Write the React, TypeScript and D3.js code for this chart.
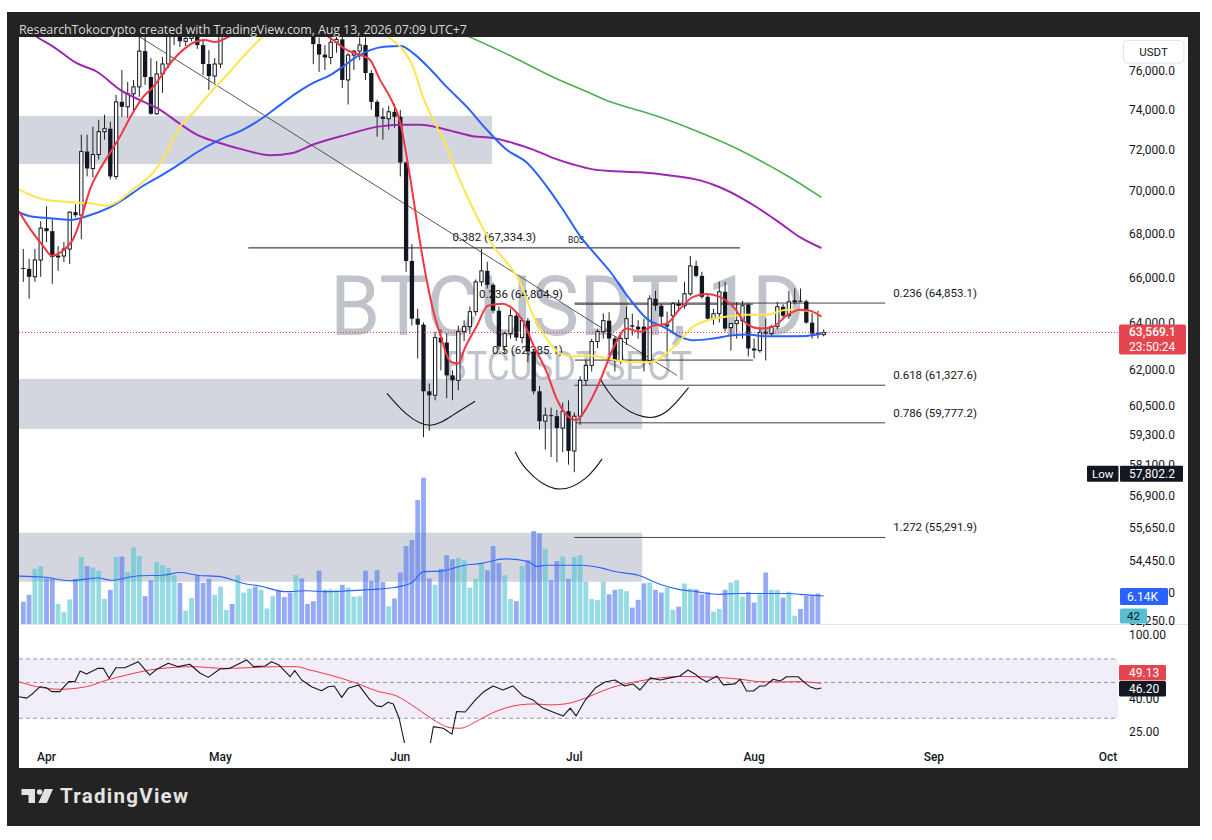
import * as d3 from 'd3';

type Pt = [number, number];

// one candle per day, first candle 28 Mar 2026
const START = Date.UTC(2026, 2, 28);
const END = Date.UTC(2026, 9, 1);
const DAY = 86400000;

const opens = [
  66420, 66380, 66022, 66783, 68245, 68107, 66918, 66963, 67282, 68990,
  68850, 71896, 71074, 71751, 72876, 73024, 70690, 74371, 74120, 74776,
  75131, 76983, 75640, 73769, 75794, 76311, 77900, 78400, 77500, 77650,
  78500, 77300, 76311, 75690, 76311, 78300, 79200, 78700, 80100, 80600,
  81400, 80700, 81200, 81500, 81900, 81100, 80200, 79400, 79900, 79000,
  78200, 77350, 76800, 76650, 77450, 77600, 75487, 76775, 76983, 77305,
  75845, 74371, 73620, 73520, 73869, 73620, 71363, 66738, 64169, 63908,
  61075, 60910, 63348, 63135, 61740, 61531, 63606, 63822, 64474, 65796,
  66290, 65663, 64517, 62964, 63520, 64299, 63348, 64082, 62751, 61075,
  59847, 60090, 60049, 59564, 60253, 58645, 60049, 61531, 62159, 63178,
  63606, 64082, 63306, 62328, 63306, 63880, 63822, 63822, 62370, 65044,
  64735, 63850, 64299, 64823, 64735, 65264, 66513, 66066, 65131, 64169,
  64386, 65352, 63779, 63952, 64082, 64779, 62879, 62794, 63600, 63520,
  63822, 64691, 64299, 64911, 64955, 64930, 63995, 63563, 63477,
];
const highs = [
  67282, 66828, 67282, 68570, 69270, 68662, 67420, 67602, 69036, 69363,
  72729, 72729, 73123, 73471, 73720, 73372, 74725, 76000, 75385, 75487,
  77900, 77900, 76620, 76470, 76670, 78300, 78700, 78600, 78000, 78900,
  78800, 77600, 77035, 76620, 78700, 79700, 79900, 80500, 81100, 81900,
  81800, 81600, 81900, 82400, 82200, 81400, 80500, 80300, 80200, 79300,
  78400, 77700, 77300, 77700, 78200, 77800, 76880, 77035, 77700, 77700,
  76000, 74470, 74070, 74170, 74270, 73970, 71410, 67510, 64600, 64000,
  61400, 63600, 63700, 63520, 61950, 63865, 64100, 64700, 65900, 67282,
  66700, 65750, 64700, 63600, 64600, 64450, 64200, 64200, 62850, 61300,
  60400, 60400, 60300, 60600, 60700, 60200, 61700, 62400, 63300, 63700,
  64400, 64450, 63400, 63500, 64690, 64386, 64100, 64169, 65200, 65397,
  64823, 64474, 64900, 65000, 65800, 66963, 66750, 66250, 65200, 64600,
  65800, 65800, 63995, 64900, 64950, 64850, 63306, 63800, 64169, 63900,
  64900, 64800, 65400, 65500, 65500, 65000, 64517, 64517, 63700,
];
const lows = [
  65796, 65044, 65796, 66022, 67602, 65708, 66290, 66693, 66603, 68756,
  67739, 70690, 70642, 71508, 72483, 70547, 70547, 73620, 73570, 73819,
  74624, 75233, 73720, 73720, 74826, 76100, 77300, 77200, 77250, 77500,
  77100, 75740, 74978, 75333, 76100, 78000, 78300, 78400, 79700, 80300,
  80300, 80200, 80900, 81100, 80700, 79800, 79000, 79000, 78600, 77900,
  76300, 75900, 76000, 76300, 76900, 75080, 74240, 76000, 76520, 75490,
  73970, 72630, 72480, 72975, 73070, 70690, 66245, 63870, 62455, 59200,
  59450, 60700, 61950, 60790, 60704, 61116, 63200, 63500, 64300, 65600,
  65500, 64400, 62800, 62700, 63300, 63200, 63100, 62300, 60950, 59500,
  58700, 58400, 58200, 58600, 58100, 57802, 59700, 61300, 61900, 62900,
  63300, 62600, 61907, 62200, 63030, 63434, 63300, 61907, 62200, 64517,
  63865, 62582, 63500, 64500, 64600, 65175, 66000, 65044, 64082, 63900,
  64000, 63606, 62794, 63300, 63300, 62539, 62455, 62700, 62370, 63400,
  63700, 64150, 64150, 64800, 64900, 63950, 63306, 63306, 63400,
];
const closes = [
  66380, 66022, 66783, 68245, 68107, 66918, 66963, 67282, 68990, 68850,
  71896, 71074, 71751, 72876, 73024, 70690, 74371, 74120, 74776, 75131,
  76983, 75640, 73769, 75794, 76311, 77900, 78400, 77500, 77650, 78500,
  77300, 76311, 75690, 76311, 78300, 79200, 78700, 80100, 80600, 81400,
  80700, 81200, 81500, 81900, 81100, 80200, 79400, 79900, 79000, 78200,
  77350, 76800, 76650, 77450, 77600, 75487, 76775, 76983, 77305, 75845,
  74371, 73620, 73520, 73869, 73620, 71363, 66738, 64169, 63908, 61075,
  60910, 63348, 63135, 61740, 61531, 63606, 63822, 64474, 65796, 66290,
  65663, 64517, 62964, 63520, 64299, 63348, 64082, 62751, 61075, 59847,
  60090, 60049, 59564, 60253, 58645, 60049, 61531, 62159, 63178, 63606,
  64082, 63306, 62328, 63306, 64169, 63822, 63700, 62370, 65044, 64735,
  64256, 63900, 64823, 64735, 65264, 66513, 66066, 65131, 64169, 64386,
  65352, 63736, 63952, 64082, 64735, 62879, 62794, 63563, 63520, 63822,
  64691, 64299, 64911, 64955, 64930, 63995, 63520, 63477, 63569.1,
];
// volume in thousands
const volumes = [
  4.9, 6.4, 12.1, 12.7, 10.0, 10.0, 4.4, 2.6, 5.4, 9.9,
  14.7, 12.7, 12.4, 11.7, 5.5, 7.5, 14.7, 14.8, 11.4, 16.8,
  14.9, 6.1, 9.6, 13.6, 12.9, 12.3, 10.7, 9.0, 2.9, 5.7,
  10.7, 9.0, 9.9, 6.4, 8.2, 3.1, 4.4, 10.7, 6.9, 7.8,
  8.2, 7.5, 3.4, 6.1, 7.5, 5.9, 6.9, 10.7, 10.0, 4.4,
  5.0, 11.7, 7.5, 7.6, 7.5, 8.6, 8.0, 6.0, 6.1, 11.7,
  9.5, 11.8, 9.2, 3.9, 5.6, 11.3, 17.1, 18.4, 27.2, 32.1,
  10.0, 8.6, 12.1, 15.1, 14.2, 14.5, 14.0, 8.0, 9.9, 13.2,
  11.8, 17.1, 13.4, 10.7, 5.5, 5.0, 12.7, 14.0, 20.4, 19.9,
  16.4, 9.6, 13.8, 14.8, 9.9, 14.7, 15.1, 9.3, 5.5, 5.3,
  9.3, 6.5, 7.5, 7.7, 7.2, 3.6, 5.3, 8.9, 9.1, 7.5,
  6.9, 8.0, 3.1, 3.8, 8.9, 7.8, 7.6, 6.5, 7.0, 2.7,
  3.3, 7.5, 9.1, 9.6, 6.0, 7.0, 4.7, 6.5, 11.3, 7.5,
  7.5, 5.8, 7.1, 1.8, 3.3, 6.2, 6.4, 6.7, 0.042,
];

// moving averages as [day, value]
const maFast: Pt[] = [
  [-0.8, 69050], [1.2, 68200], [3.4, 67430], [4.9, 66980], [6.8, 67200], [8.6, 67740],
  [10.1, 68820], [11.5, 70070], [13.2, 71030], [15, 71850], [16.7, 72650], [18.4, 73570],
  [20.6, 74600], [22.4, 75130], [24.1, 75830], [25.8, 76520], [27.5, 77035], [29.6, 77460],
  [31.3, 77570], [33, 77460], [35.6, 77780], [38.2, 78350], [42.5, 78900], [47.7, 78600],
  [53.4, 77570], [55.8, 77035], [58.1, 76780], [59.8, 76520], [61.5, 75490], [63.2, 74620],
  [65, 73320], [66.1, 71650], [67.2, 69740], [68.4, 67600], [69.6, 65800], [70.8, 64390],
  [72.1, 63300], [73.6, 62330], [75, 62240], [76.1, 62880], [78.2, 63860], [80.1, 64740],
  [82.7, 64820], [84.4, 64600], [86.2, 64040], [87.9, 63050], [90.2, 61910], [91.9, 60790],
  [93.7, 60090], [95.4, 59890], [97.1, 60380], [99.4, 61490], [101.7, 62880], [104, 63740],
  [106.3, 63600], [108.6, 63860], [110.9, 63950], [113.2, 64600], [115.5, 65130],
  [117.8, 65260], [120.1, 65130], [122.4, 64690], [124.7, 63950], [127, 63740],
  [129.3, 63820], [131.6, 64300], [133.9, 64560], [135.6, 64520], [137.6, 64260],
];
const ma20: Pt[] = [
  [-0.8, 70070], [3.4, 69600], [8.1, 69460], [11.5, 69410], [14.4, 69290], [16.1, 69460],
  [18.9, 70070], [22.4, 70880], [24.7, 71850], [27, 73140], [29.3, 73820], [32.2, 74830],
  [35.1, 75740], [37.9, 76690], [41.3, 77740], [47.7, 78800], [54.6, 79100], [59.8, 78600],
  [63.2, 77670], [65.5, 77035], [67.2, 76160], [68.9, 74620], [71.3, 73120], [73, 72140],
  [74.7, 70880], [77, 69460], [78.7, 68520], [81, 67420], [83.3, 66690], [85.6, 65800],
  [87.9, 64300], [90.2, 63310], [92.5, 62670], [94.8, 62540], [97.7, 62580], [102.3, 62370],
  [106.3, 62290], [108.6, 62330], [110.9, 62670], [113.2, 63220], [115.5, 63820],
  [117.8, 64080], [121.3, 64260], [124.7, 64340], [128.2, 64340], [131.6, 64560],
  [135.1, 64520], [137.6, 64300],
];
const ma50: Pt[] = [
  [-0.8, 68990], [1.2, 68800], [4.6, 68710], [8.1, 68630], [10.9, 68800], [14.9, 69220],
  [17.8, 69690], [20.6, 70230], [23.6, 70710], [26.4, 71190], [29.9, 71850], [33.9, 72480],
  [37.9, 72975], [41.3, 73570], [44.3, 74220], [47.1, 74810], [49.9, 75320], [52.9, 75740],
  [55.1, 76170], [57.5, 76690], [59.8, 77035], [62.2, 77210], [65.1, 77250], [67.2, 76880],
  [70.3, 76000], [73, 75130], [76.4, 74140], [79.9, 72975], [83.3, 71994], [86.8, 71360],
  [90.2, 70230], [93, 69130], [96, 67880], [98.9, 66960], [101.2, 66250], [104, 65220],
  [107.5, 64170], [110.9, 63740], [113.2, 63390], [115.5, 63230], [118.9, 63310],
  [122.4, 63450], [124.7, 63480], [128.2, 63400], [131.6, 63400], [135.1, 63420],
  [137.6, 63520],
];
const ma100: Pt[] = [
  [-0.7, 78430], [2.3, 77740], [5.2, 77210], [9.2, 76350], [12.7, 75910], [16.7, 74980],
  [20.6, 74390], [23.6, 73970], [26.4, 73390], [29.9, 72730], [33.9, 72320], [37.9, 71990],
  [42.5, 71720], [46.5, 71830], [49.9, 72230], [55.8, 72730], [61.5, 73140], [65, 73220],
  [68.4, 73220], [73, 72975], [77.5, 72650], [81, 72560], [84.4, 72320], [87.9, 71994],
  [91.3, 71590], [94.8, 71270], [98.2, 71030], [101.2, 70950], [106.3, 70890],
  [111.5, 70740], [116.7, 70500], [120.1, 70170], [123.6, 69690], [127, 69130],
  [130.5, 68480], [133.9, 67830], [137.6, 67330],
];
const ma200: Pt[] = [
  [71.8, 78430], [77, 77720], [84.4, 76680], [91.3, 75640], [97.2, 74880], [101.2, 74370],
  [106.3, 73920], [111.5, 73420], [116.7, 72830], [121.9, 72190], [127, 71460],
  [132.2, 70640], [137.6, 69690],
];
const volumeMa: Pt[] = [
  [-0.8, 10.5], [3.4, 10.3], [8, 9.5], [13, 10.1], [15, 9.6], [20, 10.6], [24, 10.7],
  [27, 11.3], [30, 10.7], [34, 10.4], [38, 8.9], [41, 8.3], [45, 7.1], [49, 7.3], [52, 7.1],
  [55, 7.2], [59, 7.5], [64, 8.0], [67, 9.1], [69, 11.5], [72, 11.6], [76, 12.9], [79, 13.3],
  [83, 14.3], [87, 13.7], [88.6, 12.6], [90, 12.9], [96, 12.9], [100, 12.2], [102, 11.5],
  [106, 10.7], [110, 8.6], [113, 7.6], [116, 7.1], [120, 6.5], [123, 6.7], [128, 6.7],
  [132, 6.7], [134, 6.5], [138, 6.14],
];
const rsi: Pt[] = [
  [-0.8, 40.8], [0.6, 40.0], [1.7, 42.9], [2.9, 47.1], [4, 46.4], [4.9, 43.9], [6.3, 43.9],
  [7.8, 50.6], [8.9, 50.6], [9.8, 58.9], [10.9, 56.5], [12.9, 61.2], [13.8, 61.2],
  [14.8, 53.1], [16, 61.8], [17.5, 61.8], [19.8, 67.3], [21.8, 55.6], [23, 60.4],
  [25, 65.8], [26.7, 62.7], [28.7, 64.9], [30.5, 57.1], [31.9, 53.8], [33.9, 60.6],
  [35.6, 61.2], [38.5, 69.0], [39.7, 62.7], [41.7, 63.3], [42.8, 67.3], [44.1, 64.2],
  [46, 54.3], [46.8, 59.2], [48, 51.8], [49.7, 47.1], [51.4, 44.5], [52.6, 47.1],
  [53.6, 47.6], [54.9, 40.4], [56, 46.0], [57.8, 48.3], [59.8, 38.9], [60.9, 35.8],
  [61.8, 35.4], [62.9, 37.7], [63.8, 36.8], [64.8, 30.0], [65.8, 20.5], [66.8, 18.5],
  [67.9, 17.5], [68.9, 19.0], [70.1, 20.2], [70.7, 26.6], [72.4, 26.0], [73.9, 23.9],
  [74.7, 33.0], [76.2, 32.8], [77.9, 38.9], [79.3, 43.6], [81, 47.6], [82.7, 44.9],
  [84.4, 47.6], [86.2, 41.2], [87.9, 38.9], [89.6, 34.7], [91.3, 32.8], [93.1, 31.0],
  [94.3, 34.7], [95.3, 31.0], [96.9, 38.9], [98.6, 46.2], [100.3, 50.4], [102, 51.8],
  [103.7, 47.6], [105.1, 49.0], [106.3, 44.9], [108.1, 53.4], [109.8, 51.8], [111.5, 53.4],
  [113.2, 54.9], [114.6, 59.8], [115.8, 56.5], [116.7, 53.1], [117.8, 50.6], [119.6, 54.9],
  [120.7, 48.3], [122.7, 49.0], [123.6, 52.4], [124.7, 44.3], [125.9, 44.3], [127, 47.6],
  [127.9, 47.6], [129.3, 52.4], [130.5, 51.1], [131.6, 54.3], [133.6, 54.3], [134.5, 50.6],
  [135.6, 47.1], [136.8, 45.6], [137.6, 46.2],
];
const rsiMa: Pt[] = [
  [-0.8, 50.6], [2.3, 47.1], [6.3, 45.4], [10.9, 47.1], [14.4, 51.8], [17.8, 55.6],
  [21.8, 59.8], [25.3, 61.8], [29.3, 62.7], [34.5, 61.2], [39.1, 61.8], [43.7, 62.7],
  [47.1, 62.7], [49.4, 59.8], [52.9, 55.6], [57.5, 49.4], [60.9, 44.3], [64.4, 41.2],
  [67.8, 34.6], [71.3, 28.5], [73.6, 26.2], [75.3, 26.0], [77.9, 28.4], [80.5, 31.9],
  [83.1, 34.7], [85.6, 36.3], [88.2, 36.8], [90.8, 36.3], [93.4, 36.8], [96, 38.9],
  [98.6, 42.4], [101.2, 46.2], [103.8, 49.0], [106.3, 51.1], [109.8, 53.4], [113.2, 54.5],
  [116.7, 54.3], [120.1, 53.6], [123.6, 52.4], [127, 50.6], [130.5, 50.4], [133.9, 50.6],
  [137.6, 49.4],
];

const priceTicks = [
  76000, 74000, 72000, 70000, 68000, 66000, 64000, 62000, 60500, 59300, 58100, 56900,
  55650, 54450, 53250, 52250,
];
const rsiTicks = [100, 40, 25];
const rsiBands = [70, 50, 30];

// drawings: [from day, to day, upper price, lower price]
const zones = [
  [-10, 80.8, 73660, 71290],
  [-10, 106.7, 61590, 59530],
  [-10, 106.7, 55470, 53650],
];
const fibRight: [string, number][] = [
  ['0.236', 64853.1], ['0.618', 61327.6], ['0.786', 59777.2], ['1.272', 55291.9],
];
const fibRightSpan = [95, 148.6];
const fibLeft: [string, number][] = [['0.236', 64804.9], ['0.5', 62385.1]];
const fibLeftSpan = [95.1, 125.8];
const bosLevel: [string, number] = ['0.382', 67334.3];
const bosSpan = [38.8, 123.6];
const trendline: Pt[] = [[13.2, 79075], [112.7, 61740]];
const cups: Pt[][] = [
  [[62.7, 60990], [66.1, 60130], [70.1, 59680], [74, 60080], [77.9, 60660]],
  [[84.8, 58610], [86.8, 57900], [91.7, 57160], [96.8, 57540], [99.8, 58330]],
  [[99.4, 61615], [102.3, 60650], [106.9, 60030], [110.9, 60240], [114.7, 61230]],
];

const lastPrice = 63569.1;
const lowPrice = 57802.2;
const lastRsi = 46.2;
const lastRsiMa = 49.13;

const FONT = 'Roboto, "DejaVu Sans", sans-serif';
const INK = '#131722';

export default function App() {
  const L = 19;
  const R = 1118;
  const x = d3.scaleUtc().domain([new Date(START), new Date(END)]).range([23.3, 1107.9]);
  const xd = (d: number) => x(new Date(START + d * DAY));
  const y = d3.scaleLog().domain([76000, 54450]).range([70, 560]);
  const yv = d3.scaleLinear().domain([0, 32.1]).range([624, 477.7]);
  const yr = d3.scaleLog().domain([100, 25]).range([634, 731]);
  const fmt = d3.format(',.1f');

  const priceLine = d3.line<Pt>().x((d) => xd(d[0])).y((d) => y(d[1])).curve(d3.curveMonotoneX);
  const volLine = d3.line<Pt>().x((d) => xd(d[0])).y((d) => yv(d[1])).curve(d3.curveMonotoneX);
  const rsiPath = d3.line<Pt>().x((d) => xd(d[0])).y((d) => yr(d[1]));
  const rsiMaPath = d3.line<Pt>().x((d) => xd(d[0])).y((d) => yr(d[1])).curve(d3.curveMonotoneX);
  const cupPath = d3.line<Pt>().x((d) => xd(d[0])).y((d) => y(d[1])).curve(d3.curveNatural);

  const months = x.ticks(d3.utcMonth.every(1)!);
  const bodyW = 4.3;

  const mas: [Pt[], string, number][] = [
    [ma200, '#4caf50', 1.6],
    [ma100, '#9c27b0', 2],
    [ma50, '#2962ff', 2],
    [ma20, '#fde64b', 2],
    [maFast, '#f23645', 2],
  ];

  const yLast = y(lastPrice);
  const yLow = y(lowPrice);

  return (
    <div>
      <style>{'body{margin:0;background:#fff}'}</style>
      <svg width={1212} height={840} style={{ display: 'block' }} fontFamily={FONT}>
        <defs>
          <clipPath id="mainClip">
            <rect x={L} y={37} width={R - L} height={587} />
          </clipPath>
          <clipPath id="rsiClip">
            <rect x={L} y={625} width={R - L} height={118} />
          </clipPath>
        </defs>
        <rect width={1212} height={840} fill="#fff" />
        <rect x={7} y={12} width={1193} height={814} fill="#232323" />
        <rect x={L} y={37} width={1169} height={731} fill="#fff" />
        <text x={19} y={33.5} fontSize={12.5} fill="#d6d6d6" textLength={448} fontFamily='"Open Sans", sans-serif'>
          ResearchTokocrypto created with TradingView.com, Aug 13, 2026 07:09 UTC+7
        </text>

        {/* main pane */}
        <g clipPath="url(#mainClip)">
          {zones.map((z, i) => (
            <rect
              key={i}
              x={xd(z[0])}
              y={y(z[2])}
              width={xd(z[1]) - xd(z[0])}
              height={y(z[3]) - y(z[2])}
              fill="#d1d4dc"
              opacity={0.95}
            />
          ))}
          <text x={330} y={335} fontSize={84} fill="#b2b5be" opacity={0.8} textLength={475} lengthAdjust="spacingAndGlyphs">
            BTCUSDT, 1D
          </text>
          <text x={445} y={380} fontSize={40} fill="#b2b5be" opacity={0.8} textLength={247} lengthAdjust="spacingAndGlyphs">
            BTCUSDT SPOT
          </text>

          {volumes.map((v, i) => {
            const up = closes[i] >= opens[i];
            return (
              <rect
                key={i}
                x={xd(i) - 2.4}
                y={yv(v)}
                width={4.8}
                height={yv(0) - yv(v)}
                fill={up ? '#4fc3d0' : '#5b7cf0'}
                opacity={up ? 0.6 : 0.65}
              />
            );
          })}
          <path d={volLine(volumeMa) ?? ''} fill="none" stroke="#2962ff" strokeWidth={1.1} />

          {/* drawings */}
          <line
            x1={xd(trendline[0][0])}
            y1={y(trendline[0][1])}
            x2={xd(trendline[1][0])}
            y2={y(trendline[1][1])}
            stroke="#444"
            strokeWidth={0.9}
          />
          <line x1={xd(bosSpan[0])} x2={xd(bosSpan[1])} y1={y(bosLevel[1])} y2={y(bosLevel[1])} stroke={INK} strokeWidth={1} />
          <text
            x={(xd(bosSpan[0]) + xd(bosSpan[1])) / 2}
            y={y(bosLevel[1]) - 7}
            fontSize={11.5}
            fill={INK}
            textAnchor="middle"
          >
            {`${bosLevel[0]} (${fmt(bosLevel[1])})`}
          </text>
          <text x={xd(95.3)} y={y(bosLevel[1]) - 5} fontSize={8.5} fill={INK} textAnchor="middle">
            BOS
          </text>
          {fibLeft.map(([lvl, p]) => (
            <g key={'l' + lvl}>
              <line x1={xd(fibLeftSpan[0])} x2={xd(fibLeftSpan[1])} y1={y(p)} y2={y(p)} stroke="#333" strokeWidth={1} />
              <text x={xd(fibLeftSpan[0]) - 12} y={y(p) - 6} fontSize={11.5} fill={INK} textAnchor="end">
                {`${lvl} (${fmt(p)})`}
              </text>
            </g>
          ))}
          {fibRight.map(([lvl, p]) => (
            <g key={'r' + lvl}>
              <line x1={xd(fibRightSpan[0])} x2={xd(fibRightSpan[1])} y1={y(p)} y2={y(p)} stroke="#444" strokeWidth={1} />
              <text x={xd(fibRightSpan[1]) + 8} y={y(p) - 6} fontSize={11.5} fill={INK}>
                {`${lvl} (${fmt(p)})`}
              </text>
            </g>
          ))}
          {cups.map((c, i) => (
            <path key={i} d={cupPath(c) ?? ''} fill="none" stroke={INK} strokeWidth={1.1} />
          ))}

          {/* candles */}
          {opens.map((o, i) => {
            const c = closes[i];
            const up = c >= o;
            const cx = xd(i);
            const top = y(Math.max(o, c));
            const bot = y(Math.min(o, c));
            const h = Math.max(1, bot - top);
            return (
              <g key={i}>
                <line x1={cx} x2={cx} y1={y(highs[i])} y2={y(lows[i])} stroke="#222" strokeWidth={1} />
                {up ? (
                  <rect x={cx - bodyW / 2 + 0.5} y={top} width={bodyW - 1} height={h} fill="#fff" stroke={INK} strokeWidth={1} />
                ) : (
                  <rect x={cx - bodyW / 2} y={top} width={bodyW} height={h} fill={INK} />
                )}
              </g>
            );
          })}

          {mas.map(([pts, col, w], i) => (
            <path key={i} d={priceLine(pts) ?? ''} fill="none" stroke={col} strokeWidth={w} strokeLinejoin="round" />
          ))}

          <line x1={L} x2={R} y1={yLast} y2={yLast} stroke="#f23645" strokeWidth={1} strokeDasharray="1 2" />
        </g>

        <line x1={L} x2={1188} y1={624.5} y2={624.5} stroke="#e0e3eb" strokeWidth={1} />

        {/* RSI pane */}
        <g clipPath="url(#rsiClip)">
          <rect x={L} y={yr(70)} width={R - L} height={yr(30) - yr(70)} fill="#7e57c2" opacity={0.1} />
          {rsiBands.map((b) => (
            <line key={b} x1={L} x2={R} y1={yr(b)} y2={yr(b)} stroke="#9598a1" strokeWidth={1} strokeDasharray="4 3" />
          ))}
          <path d={rsiMaPath(rsiMa) ?? ''} fill="none" stroke="#f23645" strokeWidth={1} />
          <path d={rsiPath(rsi) ?? ''} fill="none" stroke={INK} strokeWidth={1.1} strokeLinejoin="round" />
        </g>

        {/* price axis */}
        {priceTicks.map((t) => (
          <text key={t} x={1129} y={y(t) + 4.5} fontSize={12} fill={INK}>
            {fmt(t)}
          </text>
        ))}
        {rsiTicks.map((t) => (
          <text key={t} x={1129} y={yr(t) + 4.5} fontSize={12} fill={INK}>
            {t.toFixed(2)}
          </text>
        ))}
        <rect x={1123.5} y={40.5} width={60.5} height={22.5} rx={4} fill="#fff" stroke="#e0e3eb" />
        <text x={1153.5} y={56} fontSize={11.5} fill={INK} textAnchor="middle">
          USDT
        </text>

        <rect x={1119} y={yLast - 8} width={67} height={30} rx={2} fill="#e5454f" />
        <text x={1129} y={yLast + 4} fontSize={12} fill="#fff" fontWeight={500}>
          {fmt(lastPrice)}
        </text>
        <text x={1129} y={yLast + 18.5} fontSize={12} fill="#fff">
          23:50:24
        </text>

        <rect x={1087} y={yLow - 6.5} width={31.5} height={16} rx={1} fill={INK} />
        <text x={1102.7} y={yLow + 5.5} fontSize={11.5} fill="#fff" textAnchor="middle">
          Low
        </text>
        <rect x={1120} y={yLow - 6.5} width={63} height={16} rx={1} fill={INK} />
        <text x={1129} y={yLow + 5.5} fontSize={12} fill="#fff">
          {fmt(lowPrice)}
        </text>

        <rect x={1120} y={yv(6.14) - 8} width={48} height={17} rx={1.5} fill="#2962ff" />
        <text x={1127} y={yv(6.14) + 4.5} fontSize={12} fill="#fff">
          6.14K
        </text>
        <rect x={1120} y={608.5} width={27} height={15} rx={1.5} fill="#56bfd3" />
        <text x={1133.5} y={620} fontSize={11.5} fill={INK} textAnchor="middle">
          42
        </text>

        <rect x={1119} y={665} width={47} height={15.5} rx={1.5} fill="#e5454f" />
        <text x={1129} y={677} fontSize={12} fill="#fff">
          {lastRsiMa.toFixed(2)}
        </text>
        <rect x={1119} y={yr(lastRsi) - 7} width={47} height={15.5} rx={1.5} fill={INK} />
        <text x={1129} y={yr(lastRsi) + 5} fontSize={12} fill="#fff">
          {lastRsi.toFixed(2)}
        </text>

        {/* time axis */}
        {months.map((m) => (
          <text key={+m} x={x(m)} y={761} fontSize={12} fontWeight={500} fill={INK} textAnchor="middle">
            {d3.utcFormat('%b')(m)}
          </text>
        ))}

        {/* logo */}
        <g fill="#e3e3e3">
          <path d="M21.5 789h13.5v14h-6.5v-8h-7z" />
          <circle cx={39.6} cy={792} r={2.8} />
          <path d="M44.5 789h8.5l-6.2 14h-8.5z" />
        </g>
        <text x={60} y={802.7} fontSize={20.5} fontWeight={700} fill="#e3e3e3" textLength={128}>
          TradingView
        </text>
      </svg>
    </div>
  );
}
